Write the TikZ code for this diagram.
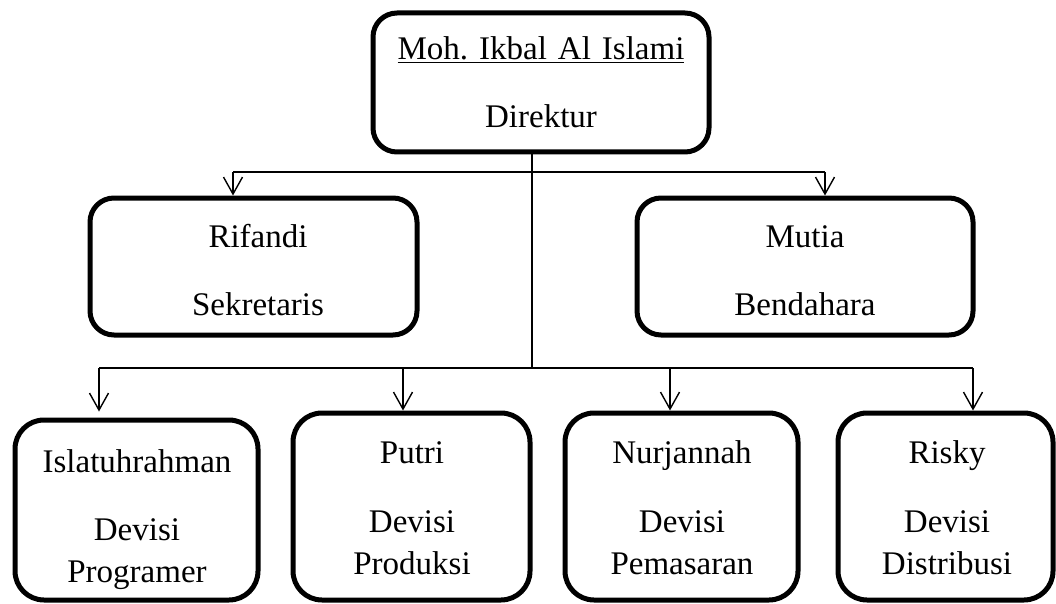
\documentclass[tikz,border=0pt]{standalone}
\usepackage{fontspec}
\setmainfont{Liberation Serif}
\usepackage{tikz}
\usetikzlibrary{arrows.meta}
\frenchspacing

\begin{document}
\begin{tikzpicture}[x=1pt,y=-1pt,
		box/.style={draw, line width=5pt, rounded corners=24pt, inner sep=0pt},
		unit/.style={box, rounded corners=29pt},
		txt/.style={anchor=base, align=center, text width=320pt, inner sep=0pt,
			font=\fontsize{33}{42}\selectfont},
		conn/.style={line width=1.4pt},
		arr/.style={conn, -{Straight Barb[length=17pt,width=19pt]}}]
		\useasboundingbox (0,0) rectangle (1056,604);

		% boxes
		\node[box, minimum width=336pt, minimum height=139pt] (dir) at (541,82.5) {};
		\node[box, minimum width=327pt, minimum height=137pt] (rif) at (253.5,266.5) {};
		\node[box, minimum width=336pt, minimum height=137pt] (mut) at (805,266.5) {};
		\node[unit, minimum width=243pt, minimum height=180pt] (isl) at (136.5,510) {};
		\node[unit, minimum width=237pt, minimum height=187pt] (put) at (411.5,506.5) {};
		\node[unit, minimum width=233pt, minimum height=187pt] (nur) at (681.5,506.5) {};
		\node[unit, minimum width=215pt, minimum height=187pt] (ris) at (945.5,506.5) {};

		% names and jobs
		\node[txt] (dirtxt) at (541,60) {\underline{Moh. Ikbal Al Islami}\\[26pt]Direktur};
		\node[txt] (riftxt) at (258,247) {Rifandi\\[26pt]Sekretaris};
		\node[txt] (muttxt) at (805,247) {Mutia\\[26pt]Bendahara};
		\node[txt] (isltxt) at (137,472) {Islatuhrahman\\[26pt]Devisi\\Programer};
		\node[txt] (puttxt) at (412,463) {Putri\\[27pt]Devisi\\Produksi};
		\node[txt] (nurtxt) at (682,463) {Nurjannah\\[27pt]Devisi\\Pemasaran};
		\node[txt] (ristxt) at (947,463) {Risky\\[27pt]Devisi\\Distribusi};

		% lines
		\coordinate (up) at (532,172);
		\coordinate (low) at (532,368);
		\coordinate (ra) at (233,172);
		\coordinate (ma) at (825,172);
		\coordinate (ia) at (99,368);
		\coordinate (pa) at (403,368);
		\coordinate (na) at (670,368);
		\coordinate (da) at (973,368);

		\draw[conn] (dir.south -| low) -- (low);
		\draw[conn] (ra) -- (ma);
		\draw[arr] (ra) -- (ra |- rif.north);
		\draw[arr] (ma) -- (ma |- mut.north);
		\draw[conn] (ia) -- (da);
		\draw[arr, shorten >=6pt] (ia) -- (ia |- isl.north);
		\draw[arr] (pa) -- (pa |- put.north);
		\draw[arr] (na) -- (na |- nur.north);
		\draw[arr] (da) -- (da |- ris.north);
\end{tikzpicture}
\end{document}
